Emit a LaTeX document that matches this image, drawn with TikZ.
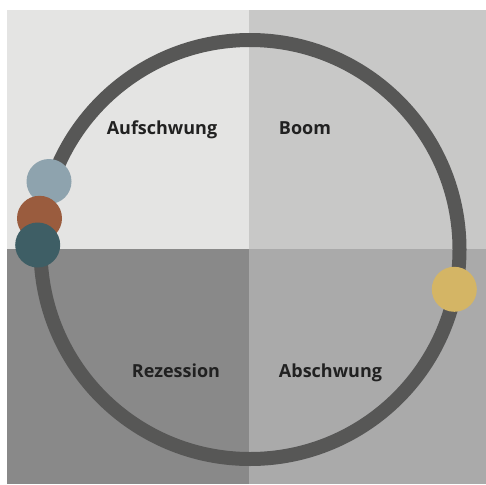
\documentclass[tikz,border=0pt]{standalone}
\usepackage{fontspec}
\setmainfont{Open Sans}
\usetikzlibrary{positioning}

\definecolor{quadA}{HTML}{E4E4E3}
\definecolor{quadB}{HTML}{C8C8C7}
\definecolor{quadC}{HTML}{898989}
\definecolor{quadD}{HTML}{AAAAAA}
\definecolor{ringgray}{HTML}{575756}
\definecolor{dotblue}{HTML}{8EA3AE}
\definecolor{dotbrown}{HTML}{9A5C3E}
\definecolor{dotteal}{HTML}{3E5E65}
\definecolor{dotyellow}{HTML}{D4B565}

\begin{document}
\begin{tikzpicture}[x=1pt, y=-1pt,
    phase/.style={text=black!87, font=\fontsize{18}{20}\selectfont\bfseries, inner sep=0pt, anchor=base},
    dot/.style={circle, minimum size=45pt, inner sep=0pt}]

    \useasboundingbox (0,0) rectangle (486,484);

    % Draw quadrants
    \fill [white] (0,0) rectangle (486,484);
    \fill [quadA] (7,10) rectangle (249,249);
    \fill [quadB] (249,10) rectangle (486,249);
    \fill [quadC] (7,249) rectangle (249,484);
    \fill [quadD] (249,249) rectangle (486,484);

    % Draw ring
    \coordinate (M) at (250,249.5);
    \draw [ringgray, line width=14pt] (M) circle [radius=209.5];

    % Draw phases
    \node [phase] (aufschwung) at (162,134) {Aufschwung};
    \node [phase] (boom) at (305,134) {Boom};
    \node [phase] (rezession) at (176,377) {Rezession};
    \node [phase] (abschwung) at (330.5,377) {Abschwung};

    % Draw dots
    \node [dot, fill=dotblue] (blue) at (49,181.5) {};
    \node [dot, fill=dotbrown] (brown) at (39.5,218.3) {};
    \node [dot, fill=dotteal] (teal) at (37.7,245) {};
    \node [dot, fill=dotyellow] (yellow) at (454.3,289.3) {};

\end{tikzpicture}
\end{document}
